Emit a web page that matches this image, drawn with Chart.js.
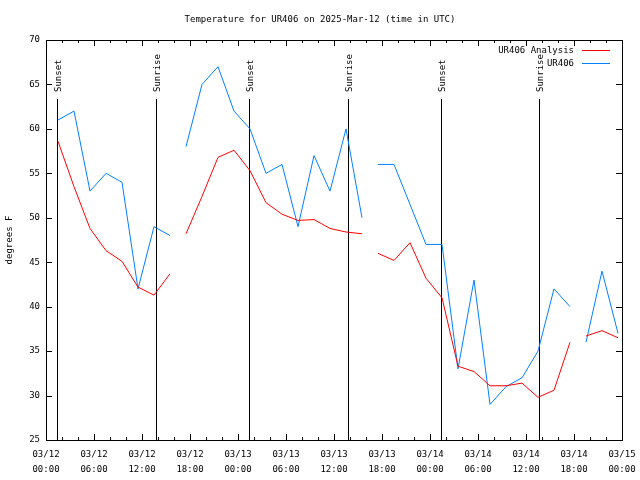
<!DOCTYPE html>
<html>
<head>
<meta charset="utf-8">
<script src="https://cdn.jsdelivr.net/npm/chart.js@4/dist/chart.umd.min.js"></script>
<style>
    html, body { margin: 0; padding: 0; background: #fff; }
    canvas { display: block; }
</style>
</head>
<body>
<canvas id="tempChart" width="640" height="480"></canvas>
<script>
// 観測時刻（UTC、03/12 00:00 からの経過時間）
const hours = [
    1.5, 3.5, 5.5, 7.5, 9.5, 11.5, 13.5, 15.5,
    17.5, 19.5, 21.5, 23.5, 25.5, 27.5, 29.5, 31.5, 33.5, 35.5, 37.5, 39.5,
    41.5, 43.5, 45.5, 47.5, 49.5, 51.5, 53.5, 55.5, 57.5, 59.5, 61.5, 63.5, 65.5,
    67.5, 69.5, 71.5,
];
// 線が途切れる位置（この時刻の後で区切る）
const gapAfter = [15.5, 39.5, 65.5];

const analysisTemps = [
    58.6, 53.5, 48.8, 46.3, 45.1, 42.2, 41.3, 43.7,
    48.2, 52.4, 56.8, 57.6, 55.3, 51.7, 50.4, 49.7, 49.8, 48.8, 48.4, 48.2,
    46.0, 45.2, 47.2, 43.2, 41.0, 33.3, 32.7, 31.1, 31.1, 31.4, 29.8, 30.6, 36.0,
    36.7, 37.3, 36.5,
];
const stationTemps = [
    61, 62, 53, 55, 54, 42, 49, 48,
    58, 65, 67, 62, 60, 55, 56, 49, 57, 53, 60, 50,
    56, 56, 51.5, 47, 47, 33, 43, 29, 31, 32, 35, 42, 40,
    36, 44, 37,
];

// 日の出・日の入り
const sunLabels = ["Sunset", "Sunrise", "Sunset", "Sunrise", "Sunset", "Sunrise"];
const sunHours = [1.4, 13.75, 25.4, 37.7, 49.4, 61.65];

// x軸ラベル（6時間ごと）
const xTickLabels = [
    ["03/12", "00:00"], ["03/12", "06:00"], ["03/12", "12:00"], ["03/12", "18:00"],
    ["03/13", "00:00"], ["03/13", "06:00"], ["03/13", "12:00"], ["03/13", "18:00"],
    ["03/14", "00:00"], ["03/14", "06:00"], ["03/14", "12:00"], ["03/14", "18:00"],
    ["03/15", "00:00"],
];

const FONT = "'DejaVu Sans Mono', 'Liberation Mono', monospace";
const toPoints = (vals) => hours.map((h, i) => ({ x: h, y: vals[i] }));
const segColor = (color) => (ctx) =>
    gapAfter.includes(hours[ctx.p0DataIndex]) ? "rgba(0,0,0,0)" : color;

// gnuplot風の枠・目盛り・日の出線・凡例
const gnuplotDecor = {
    id: "gnuplotDecor",
    beforeDatasetsDraw(chart) {
        const { ctx, chartArea, scales } = chart;
        ctx.save();
        ctx.strokeStyle = "#000";
        ctx.fillStyle = "#000";
        ctx.lineWidth = 1;
        ctx.font = "9px " + FONT;
        sunHours.forEach((h, i) => {
            const x = Math.round(scales.x.getPixelForValue(h)) + 0.5;
            ctx.beginPath();
            ctx.moveTo(x, chartArea.top + 59);
            ctx.lineTo(x, chartArea.bottom);
            ctx.stroke();
            ctx.save();
            ctx.translate(x, chartArea.top + 52);
            ctx.rotate(-Math.PI / 2);
            ctx.textAlign = "left";
            ctx.textBaseline = "middle";
            ctx.fillText(sunLabels[i], 0, 1);
            ctx.restore();
        });
        ctx.restore();
    },
    afterDraw(chart) {
        const { ctx, chartArea, scales } = chart;
        const { left, right, top, bottom } = chartArea;
        ctx.save();
        ctx.strokeStyle = "#000";
        ctx.lineWidth = 1;
        ctx.beginPath();
        scales.x.ticks.forEach((t) => {
            const x = Math.round(scales.x.getPixelForValue(t.value)) + 0.5;
            const len = t.value % 6 === 0 ? 6 : 3;
            ctx.moveTo(x, bottom);
            ctx.lineTo(x, bottom - len);
            ctx.moveTo(x, top);
            ctx.lineTo(x, top + len);
        });
        scales.y.ticks.forEach((t) => {
            const y = Math.round(scales.y.getPixelForValue(t.value)) + 0.5;
            ctx.moveTo(left, y);
            ctx.lineTo(left + 6, y);
            ctx.moveTo(right, y);
            ctx.lineTo(right - 6, y);
        });
        ctx.stroke();
        ctx.strokeRect(Math.round(left) + 0.5, Math.round(top) + 0.5,
            Math.round(right - left), Math.round(bottom - top));

        // 凡例
        ctx.font = "9px " + FONT;
        ctx.textAlign = "right";
        ctx.textBaseline = "middle";
        ctx.fillStyle = "#000";
        chart.data.datasets.forEach((ds, i) => {
            const y = Math.round(top + 10 + i * 12.5) + 0.5;
            ctx.fillText(ds.label, right - 48, y);
            ctx.strokeStyle = ds.borderColor;
            ctx.beginPath();
            ctx.moveTo(right - 40, y);
            ctx.lineTo(right - 12, y);
            ctx.stroke();
        });
        ctx.restore();
    },
};

const chartCtx = document.getElementById("tempChart").getContext("2d");
new Chart(chartCtx, {
    type: "line",
    data: {
        datasets: [
            {
                label: "UR406 Analysis",
                data: toPoints(analysisTemps),
                borderColor: "#ff0000",
                borderWidth: 1,
                pointRadius: 0,
                tension: 0,
                fill: false,
                segment: { borderColor: segColor("#ff0000") },
            },
            {
                label: "UR406",
                data: toPoints(stationTemps),
                borderColor: "#0080ff",
                borderWidth: 1,
                pointRadius: 0,
                tension: 0,
                fill: false,
                segment: { borderColor: segColor("#0080ff") },
            },
        ],
    },
    options: {
        responsive: false,
        animation: false,
        devicePixelRatio: 1,
        plugins: {
            legend: { display: false },
            tooltip: { enabled: false },
            title: {
                display: true,
                text: "Temperature for UR406 on 2025-Mar-12 (time in UTC)",
                color: "#000",
                font: { family: FONT, size: 9, weight: "normal" },
                padding: { top: 14, bottom: 15.2 },
            },
        },
        scales: {
            x: {
                type: "linear",
                min: 0,
                max: 72,
                grid: { display: false, tickLength: 0 },
                border: { display: false },
                ticks: {
                    stepSize: 2,
                    autoSkip: false,
                    maxRotation: 0,
                    minRotation: 0,
                    padding: 7,
                    color: "#000",
                    font: { family: FONT, size: 9, lineHeight: 1.65 },
                    callback: (value) =>
                        value % 6 === 0 ? xTickLabels[value / 6] : "",
                },
                afterFit: (scale) => {
                    scale.height = 40;
                    scale.paddingLeft = 0;
                    scale.paddingRight = 18;
                },
            },
            y: {
                min: 25,
                max: 70,
                grid: { display: false, tickLength: 0 },
                border: { display: false },
                ticks: {
                    stepSize: 5,
                    padding: 6,
                    color: "#000",
                    font: { family: FONT, size: 9 },
                },
                title: {
                    display: true,
                    text: "degrees F",
                    color: "#000",
                    font: { family: FONT, size: 9 },
                    padding: { top: 4, bottom: 0 },
                },
                afterFit: (scale) => {
                    scale.width = 46;
                },
            },
        },
    },
    plugins: [gnuplotDecor],
});
</script>
</body>
</html>
